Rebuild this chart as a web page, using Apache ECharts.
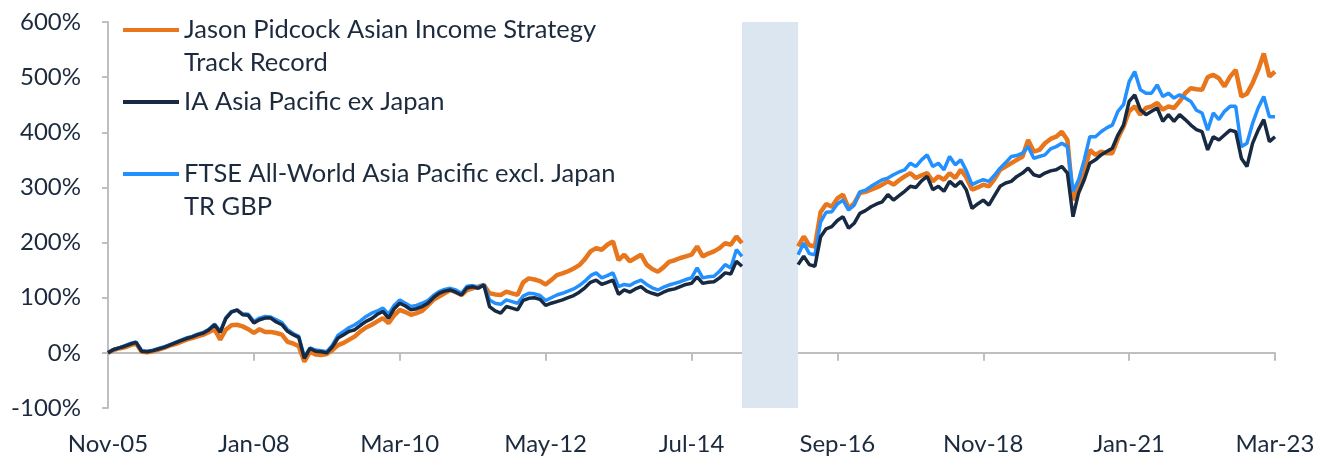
<!DOCTYPE html>
<html>
<head>
<meta charset="utf-8">
<title>Asian Income Strategy track record</title>
<script src="https://cdn.jsdelivr.net/npm/echarts@6/dist/echarts.min.js"></script>
<style>
    html, body { margin: 0; padding: 0; background: #fff; }
    #chart { width: 1319px; height: 458px; }
</style>
</head>
<body>
<div id="chart"></div>
<script>
// monthly categories Nov-05 .. Mar-23
const monthNames = ['Jan', 'Feb', 'Mar', 'Apr', 'May', 'Jun', 'Jul', 'Aug', 'Sep', 'Oct', 'Nov', 'Dec']
const months = []
for (let i = 0; i < 209; i++) {
    const mi = (10 + i) % 12
    const yr = 2005 + Math.floor((10 + i) / 12)
    months.push(monthNames[mi] + '-' + String(yr).slice(2))
}

const yTicks = [-100, 0, 100, 200, 300, 400, 500, 600]

// cumulative return, % (null = no data, shaded period)
const jasonPidcock = [
    0, 5, 8, 10, 14, 17, 2, 1, 3, 6, 9, 13, 16, 20, 24, 27, 30, 33, 38, 43,
    24, 42, 50, 51, 48, 43, 36, 43, 38, 38, 36, 33, 20, 17, 12, -16, 2, -3, -4, -2,
    5, 14, 18, 24, 30, 39, 46, 51, 57, 63, 54, 68, 78, 74, 69, 72, 76, 86, 96, 102,
    108, 114, 110, 105, 114, 117, 120, 123, 108, 106, 105, 111, 108, 105, 128, 135, 133, 130, 124, 132,
    141, 144, 148, 153, 159, 170, 184, 190, 187, 196, 202, 168, 178, 166, 172, 178, 160, 152, 147, 155,
    165, 168, 172, 175, 178, 193, 175, 180, 184, 190, 199, 196, 211, 199,
    null, null, null, null, null, null, null, null, null,
    193, 211, 195, 193, 255, 270, 265, 280, 287, 262, 271, 290, 292, 296, 300, 305, 311,
    305, 313, 320, 326, 317, 322, 326, 311, 320, 314, 326, 317, 332, 318, 296, 300, 305, 302, 315,
    332, 338, 344, 350, 356, 386, 365, 368, 380, 388, 392, 401, 386, 277, 302, 326, 368, 359, 365, 362,
    362, 389, 410, 438, 447, 432, 444, 447, 453, 441, 447, 444, 456, 471, 480, 478, 477, 500, 504, 498,
    483, 501, 513, 465, 470, 489, 513, 543, 501, 510
]
const iaAsiaPacific = [
    0, 6, 9, 12, 16, 19, 3, 2, 4, 7, 10, 14, 18, 22, 26, 29, 33, 36, 42, 51,
    37, 62, 74, 78, 69, 68, 54, 60, 63, 63, 56, 51, 39, 33, 28, -10, 8, 3, 2, 0,
    11, 27, 33, 39, 42, 50, 57, 62, 70, 75, 63, 80, 90, 85, 78, 80, 84, 90, 100, 108,
    112, 114, 110, 105, 118, 120, 117, 123, 84, 76, 72, 84, 81, 78, 95, 99, 100, 97, 86, 90,
    93, 96, 100, 104, 110, 118, 128, 132, 124, 128, 132, 106, 114, 110, 116, 120, 112, 108, 105, 110,
    114, 116, 120, 124, 126, 138, 126, 128, 129, 136, 145, 143, 166, 157,
    null, null, null, null, null, null, null, null, null,
    160, 175, 160, 157, 210, 225, 229, 240, 247, 226, 235, 253, 258, 265, 270, 274, 287,
    277, 285, 293, 302, 300, 312, 320, 296, 302, 293, 311, 302, 311, 295, 262, 270, 277, 268, 285,
    302, 308, 311, 320, 326, 335, 323, 320, 326, 330, 332, 338, 326, 247, 290, 314, 344, 350, 359, 365,
    371, 395, 413, 456, 468, 441, 432, 438, 444, 420, 432, 420, 432, 423, 413, 405, 401, 368, 392, 386,
    395, 404, 401, 353, 338, 380, 404, 423, 383, 392
]
const ftseAsiaPacific = [
    0, 6, 9, 13, 17, 20, 4, 3, 5, 8, 11, 15, 19, 23, 27, 30, 34, 37, 43, 52,
    39, 64, 75, 77, 71, 70, 57, 63, 66, 65, 60, 55, 42, 35, 30, -8, 9, 5, 4, 2,
    14, 32, 39, 46, 51, 58, 66, 72, 76, 81, 70, 86, 96, 90, 84, 86, 90, 95, 104, 111,
    115, 117, 114, 108, 121, 122, 119, 124, 96, 90, 88, 96, 93, 90, 103, 108, 107, 104, 95, 100,
    105, 108, 112, 116, 122, 130, 140, 145, 136, 140, 145, 120, 124, 122, 128, 132, 124, 118, 114, 119,
    123, 126, 129, 133, 136, 154, 136, 138, 139, 148, 160, 154, 187, 175,
    null, null, null, null, null, null, null, null, null,
    178, 199, 180, 178, 237, 255, 256, 270, 277, 259, 268, 292, 295, 302, 308, 314, 317,
    323, 328, 332, 344, 338, 350, 359, 338, 344, 332, 356, 341, 350, 330, 305, 310, 314, 311, 322,
    335, 345, 356, 358, 362, 374, 353, 356, 359, 370, 374, 380, 374, 293, 314, 350, 392, 392, 401, 408,
    413, 438, 450, 492, 510, 477, 471, 471, 486, 465, 471, 462, 468, 462, 456, 440, 435, 404, 435, 423,
    438, 447, 447, 374, 380, 416, 444, 465, 428, 428
]

const textColor = '#1b2a3d'
const axisColor = '#bfbfbf'
const fontFamily = 'Lato, sans-serif'
const legendFont = 25.5

const chart = echarts.init(document.getElementById('chart'))

const option = {
    animation: false,
    textStyle: { fontFamily: fontFamily },
    grid: { left: 108, right: 44, top: 22, bottom: 50 },
    legend: {
        orient: 'vertical',
        left: 123,
        top: 16,
        padding: 0,
        itemGap: 44,
        itemWidth: 56,
        itemHeight: 4,
        icon: 'rect',
        data: [
            'Jason Pidcock Asian Income Strategy Track Record',
            'IA Asia Pacific ex Japan',
            'FTSE All-World Asia Pacific excl. Japan TR GBP'
        ],
        // second lines are drawn as graphic text below
        formatter: function (name) {
            if (name.indexOf('Jason') === 0) return 'Jason Pidcock Asian Income Strategy'
            if (name.indexOf('FTSE') === 0) return 'FTSE All-World Asia Pacific excl. Japan'
            return name
        },
        textStyle: { color: textColor, fontSize: legendFont, lineHeight: 28, fontFamily: fontFamily }
    },
    graphic: [
        { type: 'text', left: 184, top: 50, style: { text: 'Track Record', fill: textColor, font: legendFont + 'px ' + fontFamily } },
        { type: 'text', left: 184, top: 194, style: { text: 'TR GBP', fill: textColor, font: legendFont + 'px ' + fontFamily } }
    ],
    xAxis: [
        {
            // labels along the bottom
            type: 'category',
            data: months,
            boundaryGap: false,
            axisLine: { show: false, onZero: false },
            axisTick: { show: false },
            axisLabel: { interval: 25, color: textColor, fontSize: 24, margin: 24 }
        },
        {
            // line and ticks through 0%
            type: 'category',
            data: months,
            position: 'bottom',
            boundaryGap: false,
            axisLine: { show: true, onZero: true, lineStyle: { color: axisColor, width: 2 } },
            axisTick: { show: true, interval: 25, length: 8, lineStyle: { color: axisColor, width: 2 } },
            axisLabel: { show: false }
        }
    ],
    yAxis: {
        type: 'value',
        min: yTicks[0],
        max: yTicks[yTicks.length - 1],
        interval: 100,
        axisLine: { show: true, lineStyle: { color: axisColor, width: 2 } },
        axisTick: { show: true, length: 6, lineStyle: { color: axisColor, width: 2 } },
        splitLine: { show: false },
        axisLabel: { formatter: '{value}%', color: textColor, fontSize: 24, margin: 27 }
    },
    series: [
        {
            name: 'Jason Pidcock Asian Income Strategy Track Record',
            type: 'line',
            data: jasonPidcock,
            showSymbol: false,
            itemStyle: { color: '#e8761c' },
            lineStyle: { width: 4.5, color: '#e8761c' },
            markArea: {
                silent: true,
                itemStyle: { color: '#dce6f1' },
                data: [[{ xAxis: 'Apr-15' }, { xAxis: 'Feb-16' }]]
            }
        },
        {
            name: 'FTSE All-World Asia Pacific excl. Japan TR GBP',
            type: 'line',
            data: ftseAsiaPacific,
            showSymbol: false,
            itemStyle: { color: '#2390ff' },
            lineStyle: { width: 3.5, color: '#2390ff' }
        },
        {
            name: 'IA Asia Pacific ex Japan',
            type: 'line',
            data: iaAsiaPacific,
            showSymbol: false,
            itemStyle: { color: '#172a42' },
            lineStyle: { width: 3.5, color: '#172a42' }
        }
    ]
}
chart.setOption(option)
</script>
</body>
</html>
